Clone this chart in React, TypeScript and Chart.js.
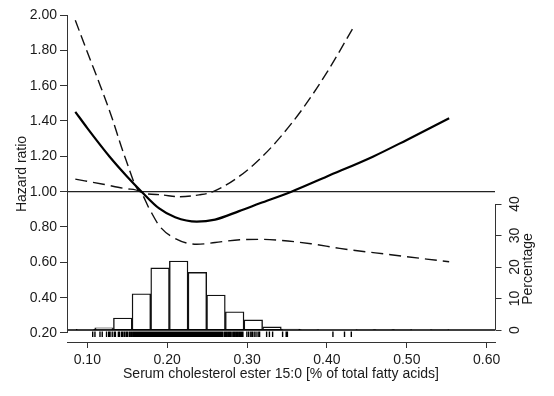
import React, { useEffect, useRef } from "react";
import { Chart, registerables } from "chart.js";
Chart.register(...registerables);

// ---------- data ----------
const xTicks = [0.1, 0.2, 0.3, 0.4, 0.5, 0.6];
const yTicks = [0.2, 0.4, 0.6, 0.8, 1.0, 1.2, 1.4, 1.6, 1.8, 2.0];
const pctTicks = [0, 10, 20, 30, 40];

const xTitle = "Serum cholesterol ester 15:0 [% of total fatty acids]";
const yTitle = "Hazard ratio";
const pctTitle = "Percentage";

const referenceHR = 1.0;

// hazard ratio curve
const hrX = [0.085, 0.1, 0.128, 0.15, 0.168, 0.19, 0.21, 0.237, 0.26, 0.29, 0.316, 0.3555, 0.4, 0.4575, 0.5, 0.553];
const hrY = [1.452, 1.36, 1.198, 1.085, 1.0, 0.905, 0.855, 0.83, 0.842, 0.89, 0.934, 1.0, 1.086, 1.198, 1.293, 1.415];

// upper 95% CI
const upX = [0.085, 0.1, 0.116, 0.13, 0.147, 0.166, 0.19, 0.216, 0.24, 0.2575, 0.291, 0.316, 0.34, 0.37, 0.4, 0.4325];
const upY = [1.97, 1.79, 1.603, 1.43, 1.198, 1.0, 0.983, 0.971, 0.982, 1.0, 1.089, 1.185, 1.3, 1.472, 1.675, 1.925];

// lower 95% CI
const loX = [0.085, 0.12, 0.15, 0.166, 0.178, 0.191, 0.21, 0.237, 0.26, 0.291, 0.316, 0.34, 0.38, 0.416, 0.48, 0.553];
const loY = [1.071, 1.042, 1.016, 1.0, 0.9, 0.802, 0.735, 0.702, 0.712, 0.728, 0.73, 0.725, 0.705, 0.679, 0.643, 0.603];

// histogram (percentage per bin)
const binCenters = [0.0977, 0.121, 0.1444, 0.1677, 0.1911, 0.2144, 0.2378, 0.2611, 0.2845, 0.3078, 0.3312, 0.3545, 0.3779, 0.4012, 0.4246, 0.4479, 0.4713, 0.4946, 0.518, 0.5413];
const binPct = [0.2, 0.7, 3.8, 11.5, 19.7, 21.9, 18.3, 11.1, 5.8, 3.2, 1.0, 0.3, 0.15, 0, 0, 0.15, 0.15, 0.15, 0, 0.15];

// rug of observations
const rugValues = [
  0.1068, 0.1096, 0.1159, 0.1187, 0.1241, 0.1268, 0.1285, 0.1312, 0.1338, 0.1352, 0.1389, 0.1405, 0.1431, 0.1447,
  0.1468, 0.1489, 0.1503, 0.1526, 0.1544, 0.1561, 0.1579, 0.1596, 0.161, 0.1622, 0.1634, 0.1649, 0.1661, 0.1676,
  0.1688, 0.1701, 0.1715, 0.1727, 0.1742, 0.1754, 0.1768, 0.1781, 0.1795, 0.1808, 0.182, 0.1835, 0.1847, 0.1862,
  0.1874, 0.1889, 0.1901, 0.1914, 0.1928, 0.1941, 0.1955, 0.1967, 0.1982, 0.1994, 0.2008, 0.2021, 0.2035, 0.2047,
  0.2062, 0.2074, 0.2088, 0.2101, 0.2115, 0.2128, 0.214, 0.2155, 0.2167, 0.2181, 0.2194, 0.2208, 0.2221, 0.2234,
  0.2248, 0.2261, 0.2274, 0.2288, 0.2301, 0.2314, 0.2328, 0.2341, 0.2355, 0.2368, 0.2381, 0.2395, 0.2408, 0.2421,
  0.2435, 0.2448, 0.2462, 0.2475, 0.2488, 0.2502, 0.2515, 0.2528, 0.2542, 0.2555, 0.2568, 0.2582, 0.2595, 0.2609,
  0.2622, 0.2636, 0.2649, 0.2663, 0.2676, 0.269, 0.2712, 0.2728, 0.2741, 0.2759, 0.2773, 0.279, 0.2801, 0.2822,
  0.2835, 0.2851, 0.2869, 0.288, 0.2898, 0.2915, 0.2931, 0.2948, 0.2998, 0.3021, 0.3047, 0.3066, 0.3089, 0.3112,
  0.3138, 0.3157, 0.3245, 0.328, 0.332, 0.3445, 0.349, 0.3505, 0.4075, 0.422, 0.4305,
];

// axis ranges
const xRange = [0.0746, 0.6104];
const yRange = [0.149, 2.0];
const pctRange = [-3.81, 100];

// ---------- styles ----------
const FONT = "'Liberation Sans', Arial, Helvetica, sans-serif";
const INK = "#1a1a1a";
const AXIS = "#333333";

const pts = (xs: number[], ys: number[]) => xs.map((x, i) => ({ x, y: ys[i] }));

const statAxes = {
  id: "statAxes",
  afterDatasetsDraw(chart: any) {
    const { ctx, chartArea, scales } = chart;
    const x = scales.x;
    const y = scales.y;
    const p = scales.y2;
    ctx.save();
    ctx.strokeStyle = AXIS;
    ctx.fillStyle = INK;
    ctx.lineWidth = 1;

    // left axis line (0.20 .. 2.00)
    const lx = Math.round(chartArea.left) + 0.5;
    ctx.beginPath();
    ctx.moveTo(lx, y.getPixelForValue(yTicks[0]));
    ctx.lineTo(lx, y.getPixelForValue(yTicks[yTicks.length - 1]));
    ctx.stroke();

    // rug
    const base = p.getPixelForValue(0);
    ctx.strokeStyle = "#000";
    ctx.lineWidth = 1.4;
    ctx.beginPath();
    rugValues.forEach((v) => {
      const px = x.getPixelForValue(v);
      ctx.moveTo(px, base + 1.5);
      ctx.lineTo(px, base + 7);
    });
    ctx.stroke();
    ctx.lineWidth = 1;

    // right axis
    ctx.strokeStyle = AXIS;
    const rx = Math.round(chartArea.right) + 0.5;
    ctx.beginPath();
    ctx.moveTo(rx, p.getPixelForValue(pctTicks[0]));
    ctx.lineTo(rx, p.getPixelForValue(pctTicks[pctTicks.length - 1]));
    pctTicks.forEach((t) => {
      const py = Math.round(p.getPixelForValue(t)) + 0.5;
      ctx.moveTo(rx, py);
      ctx.lineTo(rx + 6, py);
    });
    ctx.stroke();

    ctx.font = `14px ${FONT}`;
    ctx.textAlign = "center";
    ctx.textBaseline = "alphabetic";
    pctTicks.forEach((t) => {
      const py = p.getPixelForValue(t);
      ctx.save();
      ctx.translate(rx + 23, py);
      ctx.rotate(-Math.PI / 2);
      ctx.fillText(String(t), 0, 0);
      ctx.restore();
    });
    // Percentage title
    const pMid = (p.getPixelForValue(pctTicks[0]) + p.getPixelForValue(pctTicks[pctTicks.length - 1])) / 2;
    ctx.save();
    ctx.translate(rx + 36, pMid + 2);
    ctx.rotate(-Math.PI / 2);
    ctx.fillText(pctTitle, 0, 0);
    ctx.restore();

    // y title
    const yMid = (y.getPixelForValue(yTicks[0]) + y.getPixelForValue(yTicks[yTicks.length - 1])) / 2;
    ctx.save();
    ctx.translate(25.5, yMid);
    ctx.rotate(-Math.PI / 2);
    ctx.fillText(yTitle, 0, 0);
    ctx.restore();

    // x title
    ctx.fillText(xTitle, (chartArea.left + chartArea.right) / 2, 377.5);
    ctx.restore();
  },
};

export default function App() {
  const ref = useRef<HTMLCanvasElement>(null);
  useEffect(() => {
    const canvas = ref.current!;
    Chart.defaults.font.family = FONT;
    Chart.defaults.font.size = 14;
    Chart.defaults.color = INK;
    const chart = new Chart(canvas, {
      type: "line",
      data: {
        datasets: [
          {
            type: "line",
            data: pts(hrX, hrY),
            borderColor: "#000",
            borderWidth: 2.2,
            pointRadius: 0,
            cubicInterpolationMode: "monotone",
            yAxisID: "y",
            order: 1,
          },
          {
            type: "line",
            data: pts(upX, upY),
            borderColor: "#111",
            borderWidth: 1.4,
            borderDash: [11, 5],
            pointRadius: 0,
            cubicInterpolationMode: "monotone",
            yAxisID: "y",
            order: 2,
          },
          {
            type: "line",
            data: pts(loX, loY),
            borderColor: "#111",
            borderWidth: 1.4,
            borderDash: [12, 6],
            pointRadius: 0,
            cubicInterpolationMode: "monotone",
            yAxisID: "y",
            order: 3,
          },
          {
            type: "line",
            data: [
              { x: xRange[0], y: referenceHR },
              { x: xRange[1], y: referenceHR },
            ],
            borderColor: "#222",
            borderWidth: 1.3,
            pointRadius: 0,
            yAxisID: "y",
            order: 4,
          },
          {
            type: "line",
            data: [
              { x: xRange[0], y: 0 },
              { x: xRange[1], y: 0 },
            ],
            borderColor: "#000",
            borderWidth: 1.5,
            pointRadius: 0,
            yAxisID: "y2",
            order: 0,
          },
          {
            type: "bar",
            data: pts(binCenters, binPct) as any,
            backgroundColor: "#ffffff",
            borderColor: "#111",
            borderWidth: 1.4,
            borderSkipped: false,
            barPercentage: 1,
            categoryPercentage: 1,
            grouped: false,
            yAxisID: "y2",
            order: 5,
          } as any,
        ],
      },
      options: {
        animation: false,
        responsive: false,
        devicePixelRatio: 1,
        layout: { padding: { left: 0, top: 15, right: 59, bottom: 0 } },
        plugins: { legend: { display: false }, tooltip: { enabled: false } },
        scales: {
          x: {
            type: "linear",
            offset: false,
            min: xRange[0],
            max: xRange[1],
            afterBuildTicks: (s: any) => {
              s.ticks = xTicks.map((v) => ({ value: v }));
            },
            afterFit: (s: any) => {
              s.height = 54;
            },
            ticks: {
              callback: (v: any) => Number(v).toFixed(2),
              padding: 4,
              maxRotation: 0,
              autoSkip: false,
              color: INK,
              font: { size: 14, family: FONT },
            },
            grid: { offset: false, drawOnChartArea: false, drawTicks: true, tickLength: 6, color: AXIS, lineWidth: 1 },
            border: { display: true, color: AXIS, width: 1 },
          },
          y: {
            type: "linear",
            position: "left",
            min: yRange[0],
            max: yRange[1],
            afterBuildTicks: (s: any) => {
              s.ticks = yTicks.map((v) => ({ value: v }));
            },
            afterFit: (s: any) => {
              s.width = 67;
            },
            ticks: {
              callback: (v: any) => Number(v).toFixed(2),
              padding: 3,
              autoSkip: false,
              color: INK,
              font: { size: 14, family: FONT },
            },
            grid: { drawOnChartArea: false, drawTicks: true, tickLength: 7, color: AXIS, lineWidth: 1 },
            border: { display: false },
          },
          y2: {
            type: "linear",
            position: "right",
            display: false,
            min: pctRange[0],
            max: pctRange[1],
          },
        },
      },
      plugins: [statAxes],
    } as any);
    return () => chart.destroy();
  }, []);
  return (
    <div style={{ position: "fixed", left: 0, top: 0, width: 554, height: 396, background: "#fff" }}>
      <canvas ref={ref} width={554} height={396} style={{ display: "block" }} />
    </div>
  );
}
